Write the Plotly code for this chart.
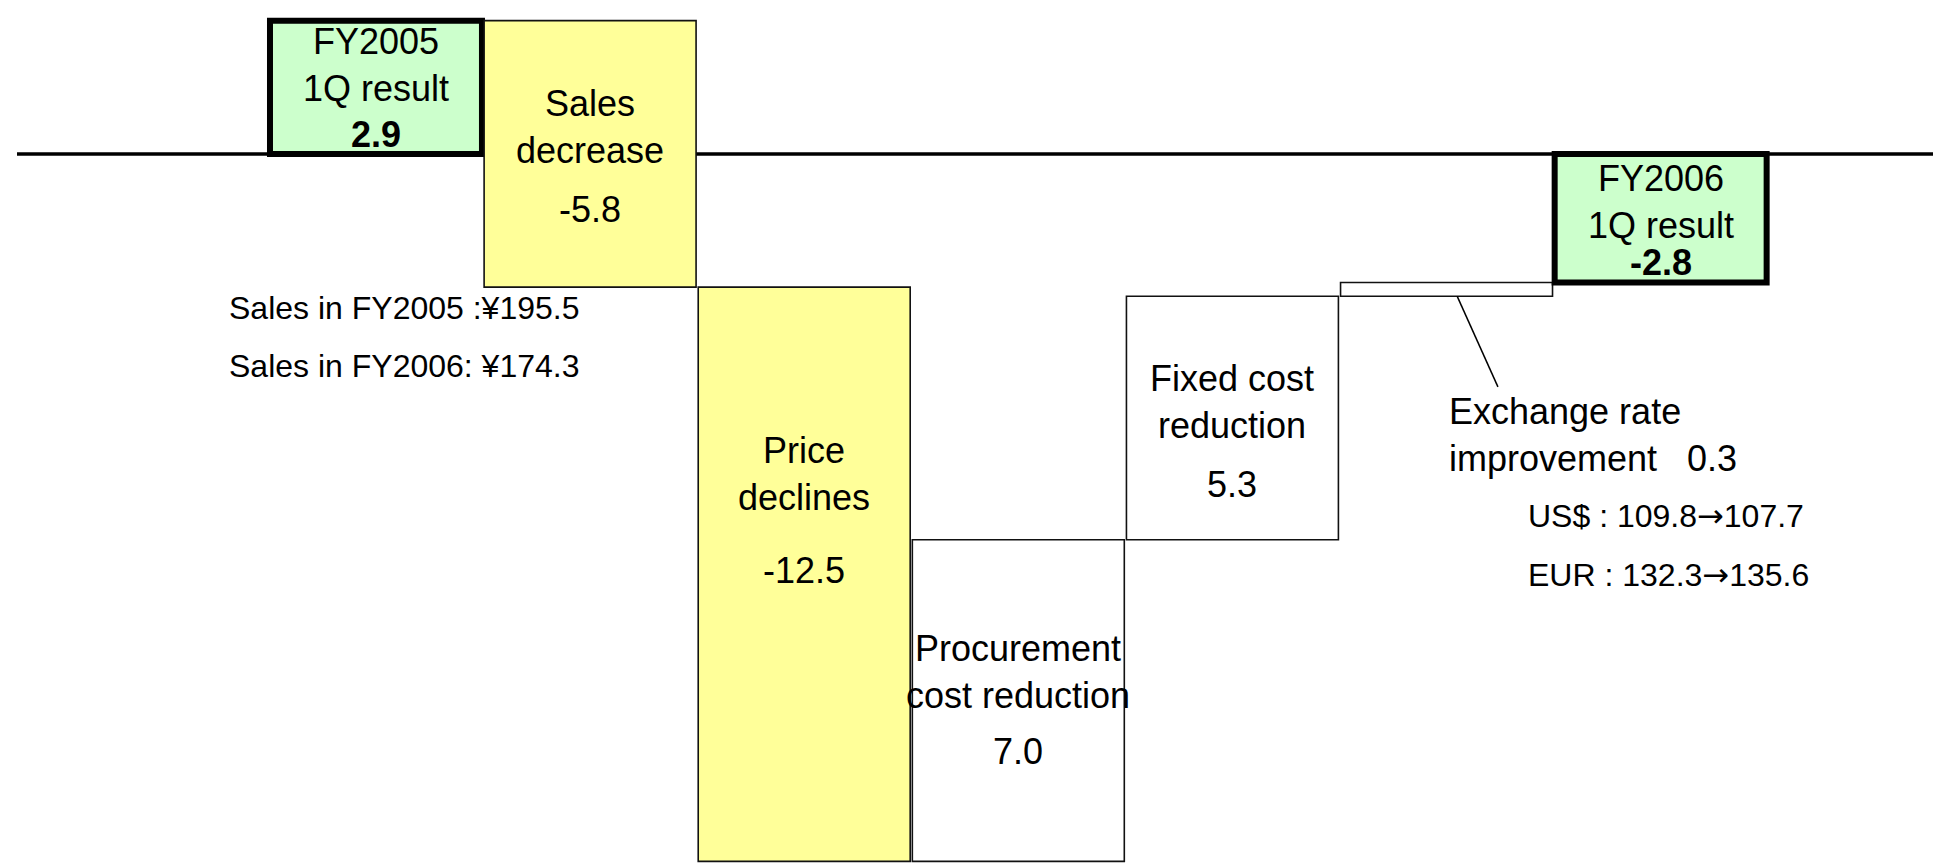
import plotly.graph_objects as go

# ---------------- data ----------------
categories = ["FY2005 1Q result", "Sales decrease", "Price declines",
              "Procurement cost reduction", "Fixed cost reduction",
              "Exchange rate improvement", "FY2006 1Q result"]
values = [2.9, -5.8, -12.5, 7.0, 5.3, 0.3, -2.8]
measures = ["absolute", "relative", "relative", "relative", "relative", "relative", "total"]
bar_labels = ["FY2005<br>1Q result", "Sales<br>decrease", "Price<br>declines",
              "Procurement<br>cost reduction", "Fixed cost<br>reduction", "", "FY2006<br>1Q result"]
value_labels = ["2.9", "-5.8", "-12.5", "7.0", "5.3", "0.3", "-2.8"]
bold_values = [True, False, False, False, False, False, True]
sales_notes = ["Sales in FY2005 :¥195.5", "Sales in FY2006: ¥174.3"]
fx_label = "Exchange rate<br>improvement\u00a0\u00a0\u00a00.3"
fx_pairs = [("US$", "109.8", "107.7"), ("EUR", "132.3", "135.6")]

# ---------------- layout constants ----------------
FONT = "Liberation Sans, Arial, sans-serif"
W, H = 1933, 866
label_shift = [22, 27, 100, 29, 16, 0, 16]
value_shift = [-47, -56, 4, -51, -66, 0, -44]

# cumulative extents of each bar (from the data)
lows, highs = [], []
running = 0.0
for v, m in zip(values, measures):
    if m == "absolute":
        lo, hi = 0.0, v
        running = v
    elif m == "total":
        lo, hi = 0.0, running
    else:
        lo, hi = running, running + v
        running = running + v
    lows.append(min(lo, hi))
    highs.append(max(lo, hi))

fig = go.Figure()
fig.add_trace(go.Waterfall(
    x=categories,
    y=values,
    measure=measures,
    connector=dict(visible=False),
    increasing=dict(marker=dict(color="#FFFFFF", line=dict(color="#111111", width=1.6))),
    decreasing=dict(marker=dict(color="#FFFF99", line=dict(color="#111111", width=1.6))),
    totals=dict(marker=dict(color="#CCFFCC", line=dict(color="#000000", width=6))),
    hoverinfo="skip",
    showlegend=False,
))

annotations = []
for i in range(len(categories)):
    mid = (lows[i] + highs[i]) / 2
    if bar_labels[i]:
        annotations.append(dict(x=i, y=mid, xref="x", yref="y", text=bar_labels[i],
                                showarrow=False, yshift=label_shift[i],
                                font=dict(family=FONT, size=36, color="#000000")))
        txt = "<b>%s</b>" % value_labels[i] if bold_values[i] else value_labels[i]
        annotations.append(dict(x=i, y=mid, xref="x", yref="y", text=txt,
                                showarrow=False, yshift=value_shift[i],
                                font=dict(family=FONT, size=36, color="#000000")))

# free notes
for j, t in enumerate(sales_notes):
    annotations.append(dict(x=0.1174, y=[0.6443, 0.5774][j], xref="paper", yref="paper",
                            text=t, showarrow=False, xanchor="left", yanchor="middle",
                            font=dict(family=FONT, size=32, color="#000000")))
annotations.append(dict(x=0.7486, y=0.4977, xref="paper", yref="paper", text=fx_label,
                        showarrow=False, xanchor="left", yanchor="middle", align="left",
                        font=dict(family=FONT, size=36, color="#000000")))
ARROW = "<span style='font-family:DejaVu Sans'>\u2192</span>"
for j, (cur, a, b) in enumerate(fx_pairs):
    annotations.append(dict(x=0.7894, y=[0.4042, 0.336][j], xref="paper", yref="paper",
                            text="%s : %s%s%s" % (cur, a, ARROW, b), showarrow=False,
                            xanchor="left", yanchor="middle",
                            font=dict(family=FONT, size=32, color="#000000")))

fx_idx = 5
shapes = [
    # zero baseline
    dict(type="line", xref="paper", yref="y", x0=0.0088, x1=1.0, y0=0, y1=0,
         line=dict(color="#000000", width=3.5), layer="below"),
    # leader line from exchange-rate bar to its label
    dict(type="line", xref="x", yref="y", x0=fx_idx + 0.05, y0=lows[fx_idx],
         x1=fx_idx + 0.24, y1=-5.07, line=dict(color="#000000", width=1.5)),
]

fig.update_layout(
    width=W, height=H, autosize=False,
    margin=dict(l=0, r=0, t=0, b=0, pad=0),
    paper_bgcolor="#FFFFFF", plot_bgcolor="#FFFFFF",
    waterfallgap=0.01,
    xaxis=dict(visible=False, range=[-1.756, 7.272], fixedrange=True),
    yaxis=dict(visible=False, range=[-15.5, 3.35], fixedrange=True),
    annotations=annotations,
    shapes=shapes,
    showlegend=False,
)

fig.write_html("out.html", config={"displayModeBar": False},
               post_script="document.body.style.margin='0';document.body.style.overflow='hidden';")
